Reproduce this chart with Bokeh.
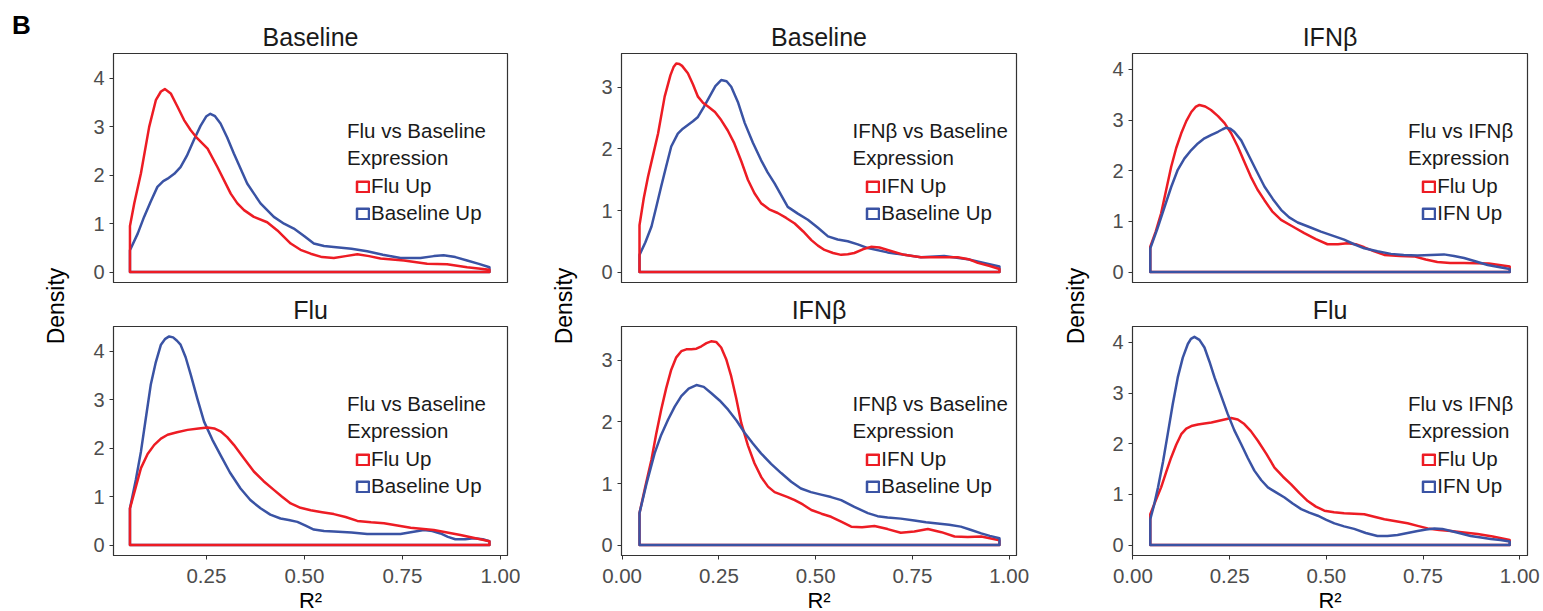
import math
from bokeh.plotting import figure
from bokeh.models import Range1d, FixedTicker, NumeralTickFormatter, Label, Legend, LegendItem
from bokeh.layouts import row, column
from bokeh.embed import file_html
from bokeh.resources import INLINE

# ---------------- data ----------------
# Column 1: Flu vs Baseline
tl_flu_x = [0.055, 0.066, 0.083, 0.104, 0.121, 0.134, 0.144, 0.159, 0.176, 0.193, 0.210, 0.227, 0.253, 0.278,
            0.312, 0.329, 0.346, 0.371, 0.405, 0.431, 0.465, 0.490, 0.516, 0.545, 0.575, 0.605, 0.635, 0.665,
            0.694, 0.754, 0.813, 0.864, 0.915, 0.972]
tl_flu_d = [0.95, 1.42, 2.04, 3.00, 3.55, 3.73, 3.78, 3.69, 3.42, 3.14, 2.93, 2.76, 2.55, 2.17,
            1.62, 1.42, 1.28, 1.14, 1.03, 0.86, 0.59, 0.46, 0.38, 0.31, 0.29, 0.33, 0.37, 0.33,
            0.28, 0.24, 0.17, 0.16, 0.10, 0.05]
tl_base_x = [0.055, 0.075, 0.091, 0.108, 0.125, 0.140, 0.151, 0.168, 0.184, 0.200, 0.218, 0.235, 0.250, 0.260,
             0.272, 0.286, 0.303, 0.320, 0.354, 0.388, 0.422, 0.448, 0.473, 0.500, 0.524, 0.550, 0.575, 0.620,
             0.660, 0.700, 0.745, 0.796, 0.830, 0.855, 0.885, 0.915, 0.945, 0.972]
tl_base_d = [0.45, 0.80, 1.14, 1.46, 1.76, 1.88, 1.93, 2.03, 2.17, 2.40, 2.73, 3.02, 3.22, 3.27,
             3.22, 3.07, 2.78, 2.45, 1.83, 1.42, 1.14, 1.00, 0.90, 0.74, 0.59, 0.54, 0.52, 0.48,
             0.43, 0.36, 0.29, 0.29, 0.33, 0.35, 0.31, 0.24, 0.17, 0.10]
bl_flu_x = [0.055, 0.070, 0.083, 0.100, 0.117, 0.134, 0.151, 0.175, 0.202, 0.230, 0.253, 0.270, 0.286, 0.303,
            0.320, 0.345, 0.371, 0.396, 0.422, 0.443, 0.465, 0.490, 0.516, 0.545, 0.575, 0.605, 0.635, 0.670,
            0.703, 0.771, 0.830, 0.898, 0.972]
bl_flu_d = [0.76, 1.20, 1.59, 1.88, 2.07, 2.20, 2.28, 2.33, 2.38, 2.41, 2.43, 2.41, 2.35, 2.23,
            2.07, 1.80, 1.52, 1.32, 1.14, 1.00, 0.86, 0.77, 0.72, 0.68, 0.64, 0.58, 0.50, 0.47,
            0.45, 0.36, 0.31, 0.21, 0.08]
bl_base_x = [0.055, 0.070, 0.083, 0.096, 0.108, 0.121, 0.134, 0.145, 0.155, 0.165, 0.175, 0.184, 0.197, 0.210,
             0.227, 0.244, 0.265, 0.286, 0.310, 0.337, 0.362, 0.388, 0.413, 0.439, 0.460, 0.482, 0.503, 0.524,
             0.550, 0.575, 0.620, 0.660, 0.700, 0.745, 0.775, 0.805, 0.826, 0.847, 0.866, 0.885, 0.910, 0.932,
             0.955, 0.972]
bl_base_d = [0.76, 1.35, 1.93, 2.65, 3.31, 3.78, 4.14, 4.26, 4.31, 4.29, 4.22, 4.14, 3.88, 3.52,
             3.02, 2.55, 2.18, 1.86, 1.50, 1.17, 0.93, 0.76, 0.63, 0.55, 0.52, 0.48, 0.40, 0.32,
             0.29, 0.28, 0.26, 0.23, 0.23, 0.23, 0.27, 0.31, 0.29, 0.24, 0.17, 0.12, 0.12, 0.14,
             0.12, 0.08]

# Column 2: IFNb vs Baseline
tm_ifn_x = [0.045, 0.056, 0.067, 0.080, 0.093, 0.110, 0.125, 0.133, 0.140, 0.148, 0.155, 0.170, 0.183, 0.196,
            0.209, 0.222, 0.240, 0.256, 0.273, 0.290, 0.308, 0.325, 0.342, 0.359, 0.380, 0.402, 0.424, 0.446,
            0.468, 0.489, 0.506, 0.523, 0.545, 0.566, 0.583, 0.600, 0.622, 0.643, 0.665, 0.686, 0.729, 0.772,
            0.824, 0.867, 0.895, 0.919, 0.950, 0.975]
tm_ifn_d = [0.76, 1.20, 1.55, 1.90, 2.25, 2.85, 3.20, 3.33, 3.39, 3.38, 3.35, 3.23, 3.05, 2.85,
            2.75, 2.69, 2.60, 2.47, 2.30, 2.09, 1.80, 1.50, 1.28, 1.12, 1.02, 0.96, 0.88, 0.79,
            0.66, 0.52, 0.43, 0.36, 0.31, 0.28, 0.29, 0.31, 0.37, 0.41, 0.40, 0.36, 0.28, 0.24,
            0.24, 0.24, 0.21, 0.15, 0.10, 0.05]
tm_base_x = [0.045, 0.060, 0.076, 0.088, 0.101, 0.114, 0.127, 0.144, 0.157, 0.170, 0.183, 0.196, 0.211, 0.226,
             0.241, 0.256, 0.270, 0.282, 0.300, 0.317, 0.338, 0.359, 0.376, 0.394, 0.411, 0.428, 0.454, 0.480,
             0.506, 0.532, 0.557, 0.583, 0.609, 0.635, 0.686, 0.729, 0.772, 0.832, 0.893, 0.935, 0.975]
tm_base_d = [0.28, 0.48, 0.74, 1.05, 1.39, 1.72, 2.04, 2.25, 2.33, 2.39, 2.45, 2.52, 2.68, 2.85,
             3.02, 3.12, 3.10, 3.01, 2.75, 2.42, 2.10, 1.82, 1.62, 1.44, 1.25, 1.06, 0.95, 0.85,
             0.72, 0.58, 0.53, 0.50, 0.45, 0.39, 0.32, 0.28, 0.24, 0.26, 0.21, 0.15, 0.09]
bm_ifn_x = [0.045, 0.060, 0.076, 0.088, 0.101, 0.114, 0.127, 0.140, 0.153, 0.166, 0.179, 0.192, 0.205, 0.218,
            0.230, 0.243, 0.256, 0.269, 0.282, 0.295, 0.308, 0.325, 0.342, 0.360, 0.377, 0.394, 0.411, 0.428,
            0.446, 0.467, 0.489, 0.515, 0.540, 0.566, 0.592, 0.620, 0.652, 0.686, 0.720, 0.755, 0.790, 0.825,
            0.859, 0.893, 0.928, 0.975]
bm_ifn_d = [0.52, 0.95, 1.39, 1.80, 2.20, 2.55, 2.85, 3.05, 3.15, 3.18, 3.18, 3.19, 3.23, 3.28,
            3.31, 3.30, 3.21, 3.02, 2.74, 2.38, 1.98, 1.62, 1.33, 1.10, 0.95, 0.86, 0.82, 0.78,
            0.73, 0.66, 0.57, 0.51, 0.46, 0.38, 0.30, 0.29, 0.31, 0.26, 0.20, 0.22, 0.26, 0.21,
            0.14, 0.13, 0.14, 0.08]
bm_base_x = [0.045, 0.064, 0.084, 0.101, 0.119, 0.136, 0.153, 0.172, 0.192, 0.211, 0.230, 0.252, 0.274, 0.296,
             0.317, 0.338, 0.359, 0.385, 0.411, 0.437, 0.462, 0.488, 0.514, 0.540, 0.566, 0.600, 0.635, 0.660,
             0.686, 0.720, 0.755, 0.785, 0.815, 0.845, 0.875, 0.900, 0.928, 0.950, 0.975]
bm_base_d = [0.52, 1.02, 1.49, 1.79, 2.04, 2.25, 2.42, 2.54, 2.60, 2.57, 2.47, 2.35, 2.20, 2.02,
             1.82, 1.65, 1.49, 1.32, 1.17, 1.03, 0.92, 0.86, 0.82, 0.78, 0.73, 0.62, 0.52, 0.47,
             0.45, 0.43, 0.40, 0.37, 0.35, 0.33, 0.30, 0.25, 0.19, 0.15, 0.11]

# Column 3: Flu vs IFNb
tr_flu_x = [0.045, 0.059, 0.073, 0.086, 0.099, 0.112, 0.125, 0.138, 0.151, 0.162, 0.172, 0.187, 0.202, 0.220,
            0.237, 0.254, 0.271, 0.288, 0.305, 0.322, 0.340, 0.360, 0.383, 0.413, 0.443, 0.473, 0.503, 0.530,
            0.554, 0.576, 0.598, 0.624, 0.650, 0.690, 0.727, 0.757, 0.787, 0.820, 0.856, 0.920, 0.974]
tr_flu_d = [0.50, 0.80, 1.16, 1.62, 2.08, 2.45, 2.74, 2.98, 3.16, 3.26, 3.30, 3.27, 3.20, 3.08,
            2.94, 2.74, 2.48, 2.18, 1.88, 1.63, 1.42, 1.20, 1.03, 0.90, 0.77, 0.65, 0.55, 0.55,
            0.57, 0.55, 0.49, 0.41, 0.34, 0.32, 0.31, 0.25, 0.20, 0.18, 0.18, 0.17, 0.11]
tr_ifn_x = [0.045, 0.063, 0.082, 0.099, 0.116, 0.133, 0.151, 0.168, 0.185, 0.203, 0.220, 0.232, 0.241, 0.252,
            0.262, 0.280, 0.297, 0.318, 0.340, 0.362, 0.383, 0.404, 0.426, 0.456, 0.486, 0.516, 0.546, 0.572,
            0.598, 0.632, 0.667, 0.700, 0.736, 0.770, 0.804, 0.830, 0.856, 0.887, 0.917, 0.945, 0.974]
tr_ifn_d = [0.47, 0.85, 1.29, 1.68, 2.02, 2.24, 2.41, 2.54, 2.64, 2.71, 2.77, 2.82, 2.85, 2.83,
            2.77, 2.60, 2.34, 2.02, 1.69, 1.44, 1.23, 1.08, 0.98, 0.89, 0.80, 0.72, 0.64, 0.55,
            0.47, 0.41, 0.36, 0.34, 0.33, 0.34, 0.35, 0.32, 0.28, 0.21, 0.14, 0.10, 0.06]
br_flu_x = [0.045, 0.059, 0.073, 0.086, 0.099, 0.112, 0.125, 0.138, 0.151, 0.168, 0.185, 0.203, 0.220, 0.237,
            0.254, 0.271, 0.288, 0.305, 0.323, 0.345, 0.366, 0.388, 0.409, 0.430, 0.452, 0.473, 0.495, 0.520,
            0.546, 0.572, 0.598, 0.624, 0.650, 0.680, 0.710, 0.736, 0.762, 0.792, 0.822, 0.856, 0.891, 0.930,
            0.974]
br_flu_d = [0.61, 0.88, 1.14, 1.44, 1.73, 1.98, 2.19, 2.30, 2.35, 2.38, 2.40, 2.42, 2.45, 2.48,
            2.51, 2.48, 2.39, 2.25, 2.06, 1.80, 1.53, 1.35, 1.20, 1.03, 0.87, 0.76, 0.68, 0.65,
            0.63, 0.62, 0.61, 0.56, 0.51, 0.47, 0.43, 0.38, 0.33, 0.30, 0.28, 0.25, 0.22, 0.17,
            0.10]
br_ifn_x = [0.045, 0.055, 0.065, 0.078, 0.090, 0.103, 0.116, 0.129, 0.142, 0.150, 0.159, 0.172, 0.185, 0.198,
            0.211, 0.228, 0.245, 0.262, 0.280, 0.297, 0.314, 0.332, 0.349, 0.370, 0.392, 0.413, 0.435, 0.456,
            0.478, 0.500, 0.521, 0.546, 0.572, 0.602, 0.632, 0.658, 0.684, 0.710, 0.736, 0.758, 0.779, 0.800,
            0.822, 0.848, 0.873, 0.900, 0.925, 0.950, 0.974]
br_ifn_d = [0.51, 0.80, 1.14, 1.65, 2.19, 2.78, 3.31, 3.70, 3.97, 4.07, 4.11, 4.05, 3.90, 3.62,
            3.31, 2.95, 2.59, 2.27, 1.99, 1.72, 1.47, 1.28, 1.14, 1.04, 0.94, 0.82, 0.71, 0.64,
            0.58, 0.50, 0.43, 0.37, 0.32, 0.24, 0.18, 0.18, 0.20, 0.24, 0.28, 0.31, 0.33, 0.32,
            0.28, 0.23, 0.18, 0.15, 0.12, 0.10, 0.07]

x_ticks = [0.0, 0.25, 0.5, 0.75, 1.0]
y_ticks_col1 = [0, 1, 2, 3, 4]
y_ticks_col2 = [0, 1, 2, 3]
y_ticks_col3 = [0, 1, 2, 3, 4]

# ---------------- styling ----------------
FONT = "Liberation Sans"
RED = "#ED1C24"
BLUE = "#3A53A4"
FRAME = "#333333"
TICKTXT = "#4D4D4D"
FH = 229
PAGE_H = 611


def outline(xs, ds):
    # geom_density-style closed outline down to zero
    return [xs[0]] + list(xs) + [xs[-1]], [0.0] + list(ds) + [0.0]


def panel(title, fw, xr, yr, yticks, red, blue, labels, leg_title, red_on_top, bottom,
          mbl, mbr, title_dx, box_dx):
    p = figure(frame_width=fw, frame_height=FH,
               x_range=Range1d(*xr), y_range=Range1d(*yr),
               output_backend="svg", toolbar_location=None, title=title,
               x_axis_location="below" if bottom else None,
               min_border_left=mbl, min_border_right=mbr,
               min_border_top=36 if bottom else 53,
               min_border_bottom=56 if bottom else 8)
    p.background_fill_color = "white"
    p.border_fill_color = "white"
    p.outline_line_color = FRAME
    p.outline_line_width = 1.2
    p.grid.visible = False
    p.title.align = "center"
    p.title.text_font = FONT
    p.title.text_font_size = "25px"
    p.title.text_font_style = "normal"
    p.title.text_color = "#1A1A1A"
    p.title.standoff = 5

    for ax in p.yaxis:
        ax.ticker = FixedTicker(ticks=yticks)
        ax.major_label_text_font = FONT
        ax.major_label_text_font_size = "20px"
        ax.major_label_text_color = TICKTXT
        ax.major_tick_out = 4
        ax.major_tick_in = 0
        ax.minor_tick_line_color = None
        ax.axis_line_color = FRAME
        ax.major_tick_line_color = FRAME
        ax.major_label_standoff = 5
    if bottom:
        for ax in p.xaxis:
            ax.ticker = FixedTicker(ticks=x_ticks)
            ax.formatter = NumeralTickFormatter(format="0.00")
            ax.major_label_text_font = FONT
            ax.major_label_text_font_size = "20.5px"
            ax.major_label_text_color = TICKTXT
            ax.major_tick_out = 4
            ax.major_tick_in = 0
            ax.minor_tick_line_color = None
            ax.axis_line_color = FRAME
            ax.major_tick_line_color = FRAME
            ax.major_label_standoff = 9
            ax.axis_label = "R\u00b2"
            ax.axis_label_text_font = FONT
            ax.axis_label_text_font_size = "22px"
            ax.axis_label_text_font_style = "normal"
            ax.axis_label_text_color = "black"
            ax.axis_label_standoff = 2

    rx, ry = outline(*red)
    bx, by = outline(*blue)
    order = [("b", bx, by), ("r", rx, ry)] if red_on_top else [("r", rx, ry), ("b", bx, by)]
    rends = {}
    for key, xs, ys in order:
        rends[key] = p.patch(xs, ys, fill_alpha=0, line_color=RED if key == "r" else BLUE,
                             line_width=2.5, line_join="round")

    # legend title lines (positioned relative to the frame)
    def fx(dx):
        return xr[0] + dx / fw * (xr[1] - xr[0])

    def fy(dy):
        return yr[1] - dy / FH * (yr[1] - yr[0])

    for txt, dy in [(leg_title, 77.3), ("Expression", 103.7)]:
        p.add_layout(Label(x=fx(title_dx), y=fy(dy), text=txt, text_font=FONT,
                           text_font_size="20.5px", text_color="#1A1A1A",
                           text_baseline="middle", text_align="left"))

    leg = Legend(items=[LegendItem(label=labels[0], renderers=[rends["r"]]),
                        LegendItem(label=labels[1], renderers=[rends["b"]])],
                 location=(box_dx, 57), padding=0, margin=0, spacing=3,
                 glyph_width=15, glyph_height=13, label_standoff=1, label_height=13,
                 label_text_font=FONT, label_text_font_size="20.5px", label_text_color="#1A1A1A",
                 background_fill_alpha=0, border_line_alpha=0)
    p.add_layout(leg)
    return p


def strip(w, dens_x, extra=None):
    s = figure(width=w, height=PAGE_H, x_range=Range1d(0, w), y_range=Range1d(0, PAGE_H),
               output_backend="svg", toolbar_location=None,
               x_axis_location=None, y_axis_location=None,
               min_border_left=0, min_border_right=0, min_border_top=0, min_border_bottom=0)
    s.outline_line_color = None
    s.grid.visible = False
    s.background_fill_color = "white"
    s.border_fill_color = "white"
    s.add_layout(Label(x=dens_x, y=PAGE_H - 305.5, text="Density", angle=math.pi / 2,
                       text_align="center", text_baseline="middle", text_font=FONT,
                       text_font_size="23px", text_color="black"))
    if extra:
        s.add_layout(extra)
    return s


XR1 = (0.013, 1.018)
XR2 = (-0.0015, 1.019)
XR3 = (-0.001, 1.020)
YR1 = (-0.215, 4.515)
YR2 = (-0.169, 3.551)
YR3 = (-0.205, 4.315)

p11 = panel("Baseline", 394, XR1, YR1, y_ticks_col1, (tl_flu_x, tl_flu_d), (tl_base_x, tl_base_d),
            ("Flu Up", "Baseline Up"), "Flu vs Baseline", True, False, 33, 13, 233.5, 242)
p21 = panel("Flu", 394, XR1, YR1, y_ticks_col1, (bl_flu_x, bl_flu_d), (bl_base_x, bl_base_d),
            ("Flu Up", "Baseline Up"), "Flu vs Baseline", True, True, 33, 13, 233.5, 242)
p12 = panel("Baseline", 395, XR2, YR2, y_ticks_col2, (tm_ifn_x, tm_ifn_d), (tm_base_x, tm_base_d),
            ("IFN Up", "Baseline Up"), "IFN\u03b2 vs Baseline", True, False, 26, 14, 231, 244.3)
p22 = panel("IFN\u03b2", 395, XR2, YR2, y_ticks_col2, (bm_ifn_x, bm_ifn_d), (bm_base_x, bm_base_d),
            ("IFN Up", "Baseline Up"), "IFN\u03b2 vs Baseline", False, True, 26, 14, 231, 244.3)
p13 = panel("IFN\u03b2", 395, XR3, YR3, y_ticks_col3, (tr_flu_x, tr_flu_d), (tr_ifn_x, tr_ifn_d),
            ("Flu Up", "IFN Up"), "Flu vs IFN\u03b2", False, False, 27, 16, 275.5, 289.3)
p23 = panel("Flu", 395, XR3, YR3, y_ticks_col3, (br_flu_x, br_flu_d), (br_ifn_x, br_ifn_d),
            ("Flu Up", "IFN Up"), "Flu vs IFN\u03b2", False, True, 27, 16, 275.5, 289.3)

b_label = Label(x=11.5, y=PAGE_H - 24.5, text="B", text_font=FONT, text_font_size="26px",
                text_font_style="bold", text_color="black", text_baseline="middle")
s1 = strip(80, 55, b_label)
s2 = strip(75, 43)
s3 = strip(75, 45)

layout = row(s1, column(p11, p21, spacing=0), s2, column(p12, p22, spacing=0),
             s3, column(p13, p23, spacing=0), spacing=0)

open("out.html", "w").write(file_html(layout, INLINE))
